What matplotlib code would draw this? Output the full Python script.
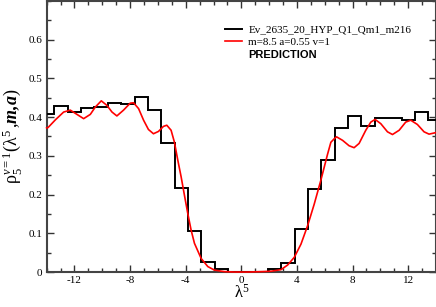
# coding: utf-8
"""
Histogram of rho_5 vs lambda^5 with the prediction curve on top.
"""
import numpy as np
import matplotlib
matplotlib.use("Agg")
import matplotlib.pyplot as plt
from matplotlib.lines import Line2D
from matplotlib.ticker import MultipleLocator

# histogram, bins of width 0.96 centred so that 0 is an edge
bin_width = 0.96
bin_edges = np.arange(-15, 16) * bin_width
hist_values = [0.407, 0.428, 0.412, 0.423, 0.425, 0.437, 0.434, 0.453,
               0.418, 0.332, 0.218, 0.106, 0.025, 0.007, 0.0, 0.0,
               0.0, 0.007, 0.023, 0.111, 0.214, 0.289, 0.371, 0.402,
               0.377, 0.398, 0.398, 0.393, 0.412, 0.392]

# prediction curve
pred_x = [-14.0, -13.9, -13.37, -12.78, -12.3, -11.82, -11.34, -10.86,
          -10.5, -10.07, -9.66, -9.3, -8.95, -8.47, -7.99, -7.75, -7.39,
          -7.03, -6.68, -6.32, -5.96, -5.6, -5.36, -5.05, -4.81, -4.57,
          -4.33, -4.09, -3.85, -3.61, -3.37, -2.89, -2.41, -1.94, -1.22,
          -0.5, 0.5, 1.5, 2.13, 2.85, 3.33, 3.81, 4.29, 4.77, 5.24, 5.72,
          6.2, 6.44, 6.68, 6.85, 7.28, 7.75, 8.11, 8.47, 8.95, 9.31, 9.62,
          10.03, 10.51, 10.87, 11.35, 11.82, 12.18, 12.66, 13.14, 13.5, 14.0]
pred_y = [0.372, 0.373, 0.393, 0.413, 0.418, 0.407, 0.396, 0.407,
          0.426, 0.442, 0.430, 0.413, 0.403, 0.418, 0.436, 0.437, 0.422,
          0.392, 0.368, 0.357, 0.363, 0.376, 0.379, 0.366, 0.335, 0.289,
          0.246, 0.198, 0.151, 0.108, 0.074, 0.035, 0.014, 0.005, 0.001,
          0.0, 0.0, 0.001, 0.002, 0.006, 0.018, 0.038, 0.072, 0.120, 0.175,
          0.237, 0.304, 0.335, 0.344, 0.349, 0.340, 0.326, 0.321, 0.332,
          0.366, 0.387, 0.394, 0.383, 0.362, 0.355, 0.366, 0.387, 0.392,
          0.381, 0.362, 0.356, 0.360]

hist_label = "Ev_2635_20_HYP_Q1_Qm1_m216"
pred_label = "m=8.5 a=0.55 v=1"
extra_label = "PREDICTION"


def mk_plot():
    plt.rcParams["font.family"] = ["Liberation Serif", "DejaVu Serif"]
    plt.rcParams["axes.unicode_minus"] = False
    plt.rcParams["mathtext.fontset"] = "custom"
    plt.rcParams["mathtext.rm"] = "Liberation Serif"
    plt.rcParams["mathtext.it"] = "Liberation Serif:italic"
    plt.rcParams["mathtext.bf"] = "Liberation Serif:bold:italic"

    fig = plt.figure(figsize=(4.36, 3.07), dpi=100)
    ax = fig.add_axes([0.107, 0.114, 0.893, 0.883])

    ax.stairs(hist_values, bin_edges, color="black", linewidth=1.4,
              zorder=3)
    ax.plot(pred_x, pred_y, color="red", linewidth=1.2, zorder=4,
            clip_on=False)

    ax.set_xlim(-14, 14)
    ax.set_ylim(0, 0.7)
    ax.xaxis.set_major_locator(MultipleLocator(4))
    ax.xaxis.set_minor_locator(MultipleLocator(1))
    ax.yaxis.set_minor_locator(MultipleLocator(0.05))
    ax.set_yticks([0, 0.1, 0.2, 0.3, 0.4, 0.5, 0.6])
    ax.set_yticklabels(["0", "0.1", "0.2", "0.3", "0.4", "0.5", "0.6"])
    ax.tick_params(which="both", direction="in", top=True, right=True,
                   labelsize=8, color="#333333", width=1.0, pad=3)
    ax.tick_params(which="major", length=5)
    ax.tick_params(which="minor", length=3)
    for sp in ax.spines.values():
        sp.set_linewidth(1.5)
        sp.set_color("#444444")

    ax.set_xlabel(r"$\mathrm{\lambda}^5$", fontsize=12, labelpad=-1)
    ax.set_ylabel(r"$\mathrm{\rho}_5^{\nu=1}(\mathrm{\lambda}^5\,{,}\mathbf{m{,}a})$",
                  fontsize=13, labelpad=3)

    handles = [Line2D([], [], color="black", linewidth=1.4),
               Line2D([], [], color="red", linewidth=1.2),
               Line2D([], [], color="none")]
    leg = ax.legend(handles, [hist_label, pred_label, extra_label],
                    loc="upper left", bbox_to_anchor=(0.458, 0.912),
                    frameon=False, fontsize=8, handlelength=1.5,
                    handletextpad=0.6, labelspacing=0.25, borderpad=0,
                    borderaxespad=0)
    txt = leg.get_texts()[2]
    txt.set_fontfamily(["Liberation Sans", "DejaVu Sans"])
    txt.set_fontweight("bold")

    fig.savefig("out.png", dpi=100)


def main():
    mk_plot()


if __name__ == "__main__":
    main()
